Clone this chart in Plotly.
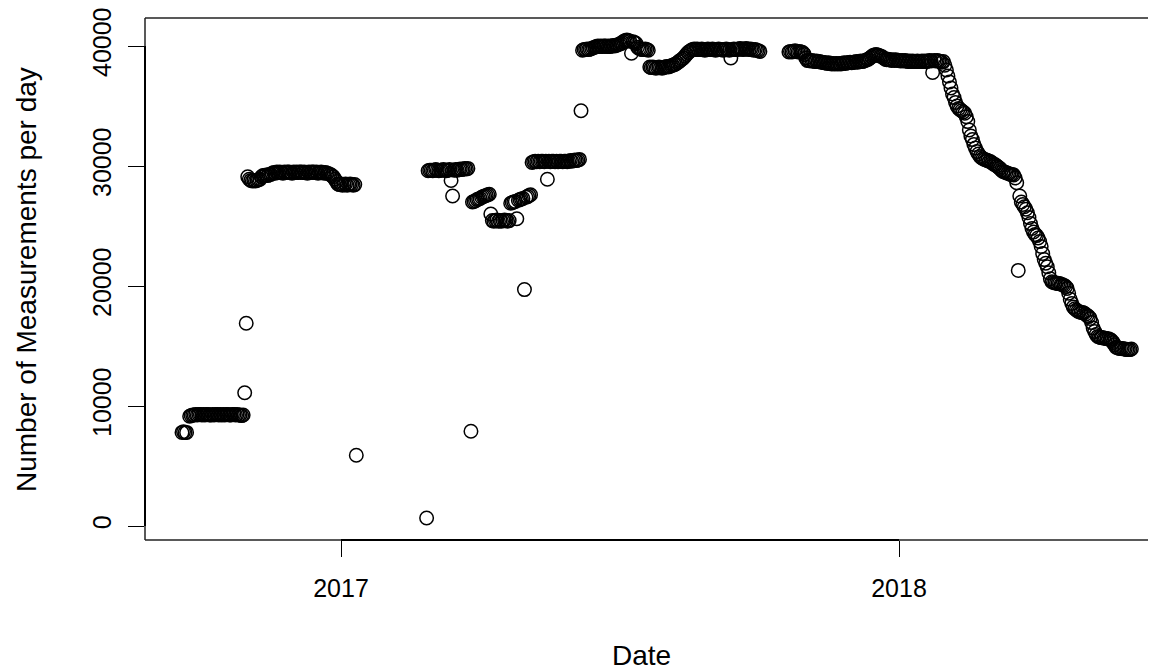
import pandas as pd
import plotly.graph_objects as go

# ---- data: daily values, each block starts on the given date ----
band_7800_start = "2016-09-19"
band_7800 = [7800, 7850, 7800, 7800]

band_9200_start = "2016-09-24"
band_9200 = [9150, 9200, 9250, 9250, 9300, 9250, 9300, 9300, 9250, 9300,
             9250, 9300, 9300, 9250, 9250, 9300, 9250, 9300, 9300, 9250,
             9300, 9250, 9300, 9250, 9300, 9300, 9250, 9250, 9300, 9300,
             9250, 9300, 9250, 9250, 9200, 9250]

spike_start = "2016-10-30"
spike_vals = [11100, 16900]

band_29000_start = "2016-11-01"
band_29000 = [29100,
              28900, 28800, 28750, 28800, 28750, 28800, 28850, 28900,
              29100, 29200, 29200, 29250, 29200, 29300, 29300,
              29400, 29450, 29400, 29500, 29450, 29500, 29450, 29400, 29500, 29450,
              29500, 29500, 29450, 29400, 29500, 29450, 29500, 29450, 29500, 29500,
              29450, 29500, 29450, 29400, 29500, 29450, 29500, 29500, 29450, 29500,
              29400, 29450, 29500, 29450, 29400, 29450, 29400, 29350, 29300,
              29200, 29100, 28900, 28700,
              28500, 28450, 28500, 28400, 28450, 28500, 28400, 28450, 28500, 28450, 28400, 28450]

drop_jan_start = "2017-01-11"
drop_jan = [5900]

low_feb_start = "2017-02-26"
low_feb = [670]

band_29600_start = "2017-02-27"
band_29600 = [29600, 29650, 29650, 29600, 29650, 29700, 29650, 29600, 29650, 29650,
              29700, 29650, 29600, 29650, 29700, 28800, 27500, 29650, 29700, 29650,
              29700, 29750, 29700, 29750, 29800, 29750, 29800]

low_mar_start = "2017-03-27"
low_mar = [7900]

band_27000_start = "2017-03-28"
band_27000 = [27000, 27050, 27100, 27200, 27250, 27300, 27400, 27450, 27500, 27550,
              27600, 27650, 26000]

band_25400_start = "2017-04-10"
band_25400 = [25450, 25400, 25450, 25500, 25400, 25450, 25400, 25450, 25500, 25450,
              25400, 25450]

band_27500_start = "2017-04-22"
band_27500 = [26900, 26950, 27000, 27050, 25600, 27150, 27200, 27250, 27300, 19700,
              27400, 27450, 27550, 27600]

band_30300_start = "2017-05-06"
band_30300 = [30300, 30350, 30400, 30350, 30400, 30350, 30400, 30400, 30350, 30400,
              28900, 30400, 30350, 30400, 30400, 30350, 30400, 30350, 30400, 30400,
              30350, 30400, 30400, 30350, 30400, 30450, 30400, 30450, 30500, 30450,
              30500, 30550]

spike_jun_start = "2017-06-07"
spike_jun = [34600]

band_40000_start = "2017-06-08"
band_40000 = [39650, 39700, 39700, 39750, 39700, 39750, 39800, 39850,
              39900, 39950, 40000, 39950, 40000, 39950, 40000, 40000, 39950, 40000,
              39950, 40000, 40050, 40000, 40050, 40100, 40150, 40200,
              40300, 40400, 40450, 40500, 40450, 40400, 39400, 40350, 40300, 40200,
              39900, 39800, 39750, 39700, 39700, 39750, 39700, 39650]

band_38200_start = "2017-07-22"
band_38200 = [38250, 38200, 38250, 38200, 38150, 38200, 38250, 38200, 38150, 38200,
              38250, 38300, 38250,
              38300, 38350, 38400, 38450, 38500, 38600, 38700, 38800, 38900, 39000,
              39150, 39300, 39450, 39550, 39650]

band_39700_start = "2017-08-19"
band_39700 = [39700, 39750, 39700, 39750, 39700, 39700, 39750, 39700, 39650, 39700,
              39750, 39700, 39700, 39750, 39700, 39650, 39700, 39750, 39700, 39700,
              39650, 39700, 39750, 39700, 39650, 39000, 39700, 39750, 39700, 39700,
              39750, 39800, 39750, 39700, 39750, 39800, 39750, 39700, 39750, 39700,
              39650, 39700, 39650, 39600, 39550]

band_39500_start = "2017-10-21"
band_39500 = [39500, 39550, 39500, 39550, 39600, 39550, 39500, 39550, 39500, 39450,
              39300, 39000]

band_38700_start = "2017-11-02"
band_38700 = [38800, 38800, 38750, 38800, 38750, 38700, 38750, 38700, 38700, 38650,
              38650, 38600, 38600, 38550, 38600, 38550, 38500, 38550, 38500, 38550,
              38500, 38550, 38500, 38550, 38600, 38550, 38600, 38600, 38650, 38600,
              38650, 38650, 38700, 38650, 38700, 38750, 38700, 38750, 38800, 38850,
              38900]

bump_39200_start = "2017-12-13"
bump_39200 = [39000, 39100, 39200, 39250, 39300, 39250, 39200, 39150, 39100, 39000]

band_38800_start = "2017-12-23"
band_38800 = [38900, 38850, 38900, 38850, 38800, 38850, 38800, 38850, 38800, 38800,
              38750, 38800, 38750, 38800, 38750, 38700, 38750, 38700, 38750, 38700,
              38700, 38750, 38700, 38700, 38750, 38700, 38750, 38700, 38750, 38800,
              38750, 37800, 38800, 38750, 38800, 38750, 38700, 38650]

decline_start = "2018-01-30"
decline_2018 = [38700, 38400, 38000, 37500, 37000, 36500, 36000, 35700, 35300, 35000,
                34800, 34700, 34600, 34500, 34400, 34100, 33700, 33000, 32500, 32200,
                31800, 31500, 31200, 31000, 30800, 30700, 30600, 30550, 30500, 30450,
                30400, 30350, 30250, 30150, 30100, 30000, 29900, 29800, 29650, 29550,
                29500, 29450, 29400, 29350, 29300, 29300, 29250, 29000, 28600, 21300,
                27500, 27000, 26800, 26600, 26400, 26100, 25700, 25200, 24800, 24500,
                24300, 24200, 24000, 23700, 23300, 22700, 22200, 21900, 21600, 21100,
                20600, 20350, 20300, 20250, 20250, 20200, 20200, 20150, 20100, 20050,
                19950, 19800, 19400, 18900, 18550, 18250, 18100, 18000, 17900, 17850,
                17800, 17800, 17750, 17650, 17550, 17450, 17300, 16950, 16500, 16200,
                15950, 15800, 15750, 15700, 15700, 15650, 15650, 15600, 15600, 15550,
                15450, 15300, 15100, 14900, 14850, 14800, 14800, 14800, 14750, 14750,
                14700, 14700, 14700, 14750]

y_tick_vals = [0, 10000, 20000, 30000, 40000]
y_tick_text = ["0", "10000", "20000", "30000", "40000"]
x_tick_vals = ["2017-01-01", "2018-01-01"]
x_tick_text = ["2017", "2018"]

blocks = [
    (band_7800_start, band_7800), (band_9200_start, band_9200),
    (spike_start, spike_vals), (band_29000_start, band_29000),
    (drop_jan_start, drop_jan), (low_feb_start, low_feb),
    (band_29600_start, band_29600), (low_mar_start, low_mar),
    (band_27000_start, band_27000), (band_25400_start, band_25400),
    (band_27500_start, band_27500), (band_30300_start, band_30300),
    (spike_jun_start, spike_jun), (band_40000_start, band_40000),
    (band_38200_start, band_38200), (band_39700_start, band_39700),
    (band_39500_start, band_39500), (band_38700_start, band_38700),
    (bump_39200_start, bump_39200), (band_38800_start, band_38800),
    (decline_start, decline_2018),
]

dates, counts = [], []
for start, vals in blocks:
    dates += list(pd.date_range(start, periods=len(vals), freq="D"))
    counts += vals

# ---- layout geometry (page pixels; the page body adds an 8px offset) ----
OFF = 8
PAGE_W, PAGE_H = 1156, 671
W, H = PAGE_W - OFF, PAGE_H - OFF
plot_left, plot_top, plot_bottom = 145, 18, 540
L = plot_left - OFF
T = plot_top - OFF
B = H - (plot_bottom - OFF)
R = 0
plot_w = W - L - R
plot_h = plot_bottom - plot_top

origin = pd.Timestamp("2017-01-01")
px_per_day = 558 / 365.0
x_left = origin - pd.Timedelta(days=(341 - plot_left) / px_per_day)
x_right = origin + pd.Timedelta(days=(PAGE_W - 341) / px_per_day)
y_lo, y_hi = -1166.7, 42333.3

FONT = "Liberation Sans, Arial, Helvetica, sans-serif"
FS_TICK = 25
FS_TITLE = 28

fig = go.Figure(go.Scatter(
    x=dates, y=counts, mode="markers",
    marker=dict(symbol="circle-open", size=13.5, color="black",
                line=dict(width=1.5, color="black")),
    hoverinfo="x+y", showlegend=False))

fig.update_layout(
    width=W, height=H,
    margin=dict(l=L, r=R, t=T, b=B, pad=0),
    paper_bgcolor="white", plot_bgcolor="white",
    font=dict(family=FONT, size=FS_TICK, color="black"),
    xaxis=dict(type="date", range=[x_left, x_right], tickvals=x_tick_vals,
               ticktext=x_tick_text, ticks="outside", ticklen=16, tickwidth=1.3,
               tickcolor="black", showgrid=False, zeroline=False, showline=False,
               automargin=False, tickfont=dict(size=FS_TICK), ticklabelstandoff=10,
               ticklabeloverflow="allow"),
    yaxis=dict(range=[y_lo, y_hi], tickvals=y_tick_vals, ticktext=y_tick_text,
               tickangle=-90, ticks="outside", ticklen=16, tickwidth=1.3,
               tickcolor="black", showgrid=False, zeroline=False, showline=False,
               automargin=False, tickfont=dict(size=FS_TICK), ticklabelstandoff=7,
               ticklabeloverflow="allow"),
    shapes=[
        dict(type="line", xref="paper", yref="paper", x0=0, x1=0, y0=0, y1=1,
             line=dict(color="#222", width=1.5)),
        dict(type="line", xref="paper", yref="paper", x0=0, x1=1, y0=1, y1=1,
             line=dict(color="#222", width=1.5)),
        dict(type="line", xref="paper", yref="paper", x0=0, x1=1, y0=0, y1=0,
             line=dict(color="#222", width=1.5)),
        dict(type="line", xref="x", yref="paper", x0=x_tick_vals[0], x1=x_tick_vals[-1],
             y0=0, y1=0, line=dict(color="black", width=2)),
        dict(type="line", xref="paper", yref="y", x0=0, x1=0, y0=y_tick_vals[0],
             y1=y_tick_vals[-1], line=dict(color="black", width=2)),
    ],
    annotations=[
        dict(text="Date", xref="paper", yref="paper",
             x=(641 - plot_left) / plot_w, y=(plot_bottom - 655) / plot_h,
             xanchor="center", yanchor="middle", showarrow=False,
             font=dict(size=FS_TITLE, family=FONT, color="black")),
        dict(text="Number of Measurements per day", xref="paper", yref="paper",
             x=(26 - plot_left) / plot_w, y=0.498, textangle=-90,
             xanchor="center", yanchor="middle", showarrow=False,
             font=dict(size=FS_TITLE, family=FONT, color="black")),
    ],
)

fig.write_html("out.html")
